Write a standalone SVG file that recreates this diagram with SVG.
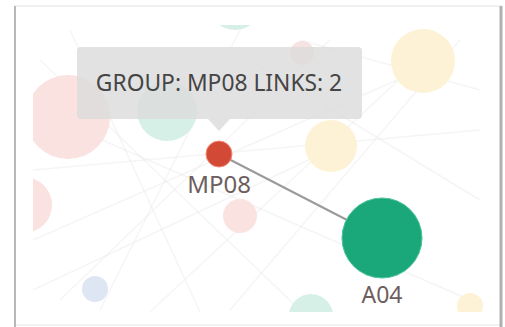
<svg xmlns="http://www.w3.org/2000/svg" width="505" height="327" viewBox="0 0 505 327">
<defs>
<style>
.bgl{stroke:#ececec;stroke-width:1.5;fill:none;opacity:0.5}
.lbl{font-family:"Noto Sans","Open Sans",sans-serif;fill:#6e5e5e;text-anchor:middle}
.tip{font-family:"Noto Sans","Open Sans",sans-serif;font-size:22.8px;fill:#454545;text-anchor:middle}
</style>
<clipPath id="plot"><rect x="33" y="25" width="450" height="287"/></clipPath>
</defs>
<rect x="0" y="0" width="505" height="327" fill="#ffffff"/>
<rect x="15" y="6" width="486" height="319" fill="#ffffff" stroke="#e2e2e2" stroke-width="1"/>
<line x1="15" y1="6" x2="15" y2="327" stroke="#b8b8b8" stroke-width="2"/>
<line x1="501" y1="6" x2="501" y2="327" stroke="#b0b0b0" stroke-width="3"/>
<g clip-path="url(#plot)">
<g id="background-links">
<line class="bgl" x1="40" y1="60" x2="300" y2="310"/>
<line class="bgl" x1="60" y1="300" x2="330" y2="40"/>
<line class="bgl" x1="33" y1="170" x2="480" y2="130"/>
<line class="bgl" x1="100" y1="310" x2="240" y2="30"/>
<line class="bgl" x1="33" y1="240" x2="420" y2="70"/>
<line class="bgl" x1="150" y1="312" x2="420" y2="60"/>
<line class="bgl" x1="33" y1="110" x2="470" y2="300"/>
<line class="bgl" x1="230" y1="310" x2="460" y2="40"/>
<line class="bgl" x1="33" y1="290" x2="330" y2="150"/>
<line class="bgl" x1="70" y1="30" x2="200" y2="312"/>
<line class="bgl" x1="300" y1="40" x2="480" y2="90"/>
<line class="bgl" x1="250" y1="60" x2="480" y2="200"/>
</g>
<g id="bg-nodes">
<circle cx="68" cy="117" r="42" fill="#f9e2df"/>
<circle cx="24" cy="205" r="28" fill="#f9e2df"/>
<circle cx="167" cy="111" r="30" fill="#d6f0e7"/>
<circle cx="235" cy="4" r="26" fill="#d6f0e7"/>
<circle cx="302" cy="53" r="12" fill="#f6e2e0"/>
<circle cx="423" cy="61" r="32" fill="#fdf2d5"/>
<circle cx="331" cy="146" r="26" fill="#fdf2d5"/>
<circle cx="240" cy="216" r="17" fill="#f9e2df"/>
<circle cx="95" cy="289" r="13" fill="#dde6f2"/>
<circle cx="311" cy="316" r="22" fill="#d6f0e7"/>
<circle cx="470" cy="306" r="13" fill="#fdf2d5"/>
</g>
</g>
<g id="connectors">
<line x1="219" y1="154" x2="382" y2="238" stroke="#9a9a9a" stroke-width="2"/>
</g>
<g id="node-MP08">
<circle cx="219" cy="154" r="13" fill="#d24a36" stroke="#f08a7a" stroke-width="1"/>
<text class="lbl" x="219" y="193" font-size="24">MP08</text>
</g>
<g id="node-A04">
<circle cx="382" cy="238" r="40" fill="#1aa87a" stroke="#4cc39a" stroke-width="1"/>
<text class="lbl" x="382" y="303" font-size="23">A04</text>
</g>
<g id="tooltip">
<path d="M81 47 H358 Q362 47 362 51 V115 Q362 119 358 119 H230 L219 131 L208 119 H81 Q77 119 77 115 V51 Q77 47 81 47 Z" fill="#dcdcdc" fill-opacity="0.82"/>
<text class="tip" x="219" y="91">GROUP: MP08 LINKS: 2</text>
</g>
</svg>
